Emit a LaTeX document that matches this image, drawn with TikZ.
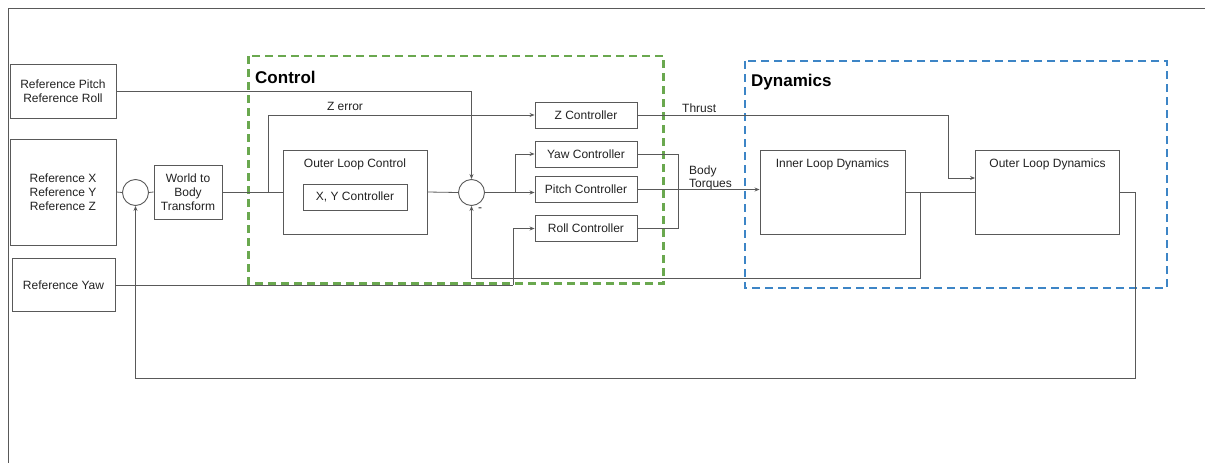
\documentclass[tikz,border=0pt]{standalone}
\usepackage{fontspec}
\setmainfont{Liberation Sans}
\usetikzlibrary{arrows.meta}
\definecolor{ctlgreen}{HTML}{6AA84F}
\definecolor{dynblue}{HTML}{3D85C6}
\definecolor{edge}{HTML}{595959}
\definecolor{ink}{HTML}{222222}
\begin{document}
\begin{tikzpicture}[x=1pt,y=-1pt,
  box/.style={draw=edge, line width=0.9pt, fill=white, inner sep=0pt,
    font=\fontsize{12}{14}\selectfont, align=center, text=ink},
  sumj/.style={circle, draw=edge, line width=0.9pt, minimum size=26pt, inner sep=0pt},
  txt/.style={inner sep=0pt, font=\fontsize{12}{14}\selectfont, text=ink, align=left},
  ttl/.style={inner sep=0pt, anchor=west, font=\fontsize{17}{20}\selectfont\bfseries, text=black},
  wire/.style={draw=edge, line width=0.8pt},
  arr/.style={wire, -{Stealth[length=5pt,width=4pt]}},
  grp/.style={draw, line width=2.2pt, dash pattern=on 8pt off 5pt}]
\useasboundingbox (0,0) rectangle (1205,463);
% frame
\draw[edge, line width=0.8pt] (8,463) -- (8,8) -- (1205,8);
% groups
\draw[grp, draw=ctlgreen] (248.5,56) rectangle (663.5,283.5);
\draw[grp, draw=dynblue] (745,61) rectangle (1167,288);
\node[ttl] (ctltitle) at (255,77) {Control};
\node[ttl] (dyntitle) at (751,82) {Dynamics};
% inputs
\node[box, minimum width=106pt, minimum height=54pt] (refpr) at (63,91) {Reference Pitch\\Reference Roll};
\node[box, minimum width=106pt, minimum height=106pt] (refxyz) at (63,192) {Reference X\\Reference Y\\Reference Z};
\node[box, minimum width=103pt, minimum height=53pt] (refyaw) at (63.5,285) {Reference Yaw};
\node[sumj] (sum1) at (135.5,192.5) {};
\node[box, minimum width=68pt, minimum height=54pt] (w2b) at (188,192) {World to\\Body\\Transform};
% control
\node[box, minimum width=144pt, minimum height=84pt] (olc) at (355,192) {};
\node[txt] (olcl) at (355,164) {Outer Loop Control};
\node[box, minimum width=104pt, minimum height=26pt] (xyc) at (355,197) {X, Y Controller};
\node[sumj] (sum2) at (471.5,192.5) {};
\node[txt] (minus) at (480,210) {-};
\node[box, minimum width=102pt, minimum height=26pt] (zc) at (586,115) {Z Controller};
\node[box, minimum width=102pt, minimum height=26pt] (yawc) at (586,154) {Yaw Controller};
\node[box, minimum width=102pt, minimum height=26pt] (pitchc) at (586,189.5) {Pitch Controller};
\node[box, minimum width=102pt, minimum height=26pt] (rollc) at (586,228.5) {Roll Controller};
% dynamics
\node[box, minimum width=145pt, minimum height=84pt] (inner) at (832.5,192) {};
\node[txt] (innerl) at (832.5,164) {Inner Loop Dynamics};
\node[box, minimum width=144pt, minimum height=84pt] (outer) at (1047.5,192) {};
\node[txt] (outerl) at (1047.5,164) {Outer Loop Dynamics};
% labels
\node[txt] (zerr) at (345,106) {Z error};
\node[txt, anchor=west] (thrust) at (682,108) {Thrust};
\node[txt, anchor=west] (bodyl) at (689,171) {Body};
\node[txt, anchor=west] (torql) at (689,185) {Torques};
% coordinates
\coordinate (zb) at (268,192);
\coordinate (sp) at (515,192.5);
\coordinate (yb) at (513,285);
\coordinate (tq) at (678,154);
\coordinate (thr) at (948,178);
\coordinate (fb1) at (920,192);
\coordinate (fb2) at (1135,192);
% connectors
\draw[wire] (refxyz.east) -- (sum1.west);
\draw[wire] (sum1.east) -- (w2b.west);
\draw[wire] (w2b.east) -- (olc.west);
\draw[arr] (zb) |- (zc.west);
\draw[arr] (refpr.east) -| (sum2.north);
\draw[wire] (olc.east) -- (sum2.west);
\draw[wire] (sum2.east) -- (sp);
\draw[arr] (sp) |- (yawc.west);
\draw[arr] (sp) -- (sp -| pitchc.west);
\draw[wire] (refyaw.east) -- (yb);
\draw[arr] (yb) |- (rollc.west);
\draw[wire] (yawc.east) -| (tq |- rollc.east) -- (rollc.east);
\draw[arr] (pitchc.east) -- (pitchc.east -| inner.west);
\draw[wire] (zc.east) -| (thr);
\draw[arr] (thr) -- (thr -| outer.west);
\draw[wire] (inner.east) -- (outer.west);
\draw[arr] (fb1) -- (920,278) -| (sum2.south);
\draw[wire] (outer.east) -- (fb2);
\draw[arr] (fb2) -- (1135,378) -| (sum1.south);
\end{tikzpicture}
\end{document}
